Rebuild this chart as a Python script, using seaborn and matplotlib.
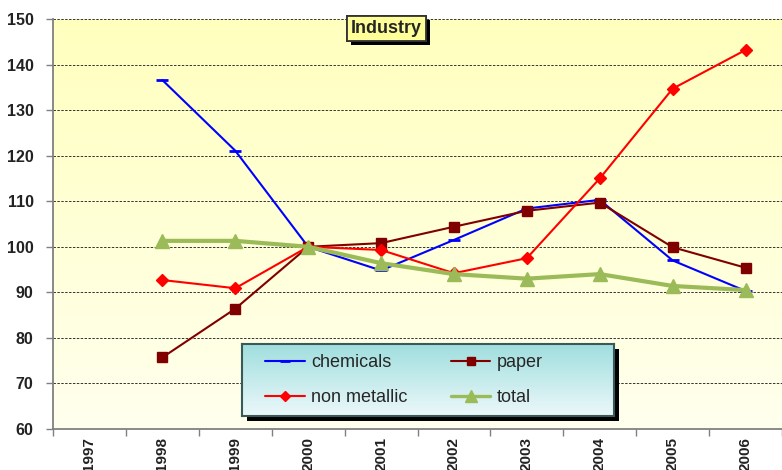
import numpy as np
import pandas as pd
import matplotlib
matplotlib.use('Agg')
import matplotlib.pyplot as plt
import matplotlib.patheffects as pe
from matplotlib.lines import Line2D
from matplotlib.patches import Rectangle
import seaborn as sns

# Data (index, 2000 = 100)
years = ['1997', '1998', '1999', '2000', '2001', '2002', '2003', '2004', '2005', '2006']
data_years = years[1:]
chemicals = [136.6, 121.1, 100.0, 94.8, 101.5, 108.4, 110.3, 97.0, 90.3]
paper = [75.7, 86.4, 100.0, 100.8, 104.4, 107.9, 109.7, 99.9, 95.4]
non_metallic = [92.7, 90.9, 100.0, 99.3, 94.2, 97.5, 115.0, 134.7, 143.2]
total = [101.3, 101.3, 100.0, 96.4, 94.0, 93.0, 94.0, 91.4, 90.5]

sns.set_style('white')
plt.rcParams['font.family'] = ['Liberation Sans', 'DejaVu Sans']

fig = plt.figure(figsize=(7.82, 4.70), dpi=100)
ax = fig.add_axes([53 / 782, 41 / 470, (782 - 53) / 782, 410 / 470])
ax.set_zorder(0)

# yellow gradient background
grad = np.linspace(0, 1, 256).reshape(-1, 1)
top_c = np.array([255, 255, 190]) / 255
bot_c = np.array([255, 255, 238]) / 255
img = top_c[None, None, :] * (1 - grad[:, :, None]) + bot_c[None, None, :] * grad[:, :, None]
ax.imshow(img, extent=[0, 1, 0, 1], transform=ax.transAxes, aspect='auto', zorder=0)

pos = [years.index(y) for y in data_years]
series = [
    ('chemicals', chemicals, '#0000FF', '_', 9, 1.5),
    ('paper', paper, '#800000', 's', 7, 1.5),
    ('non metallic', non_metallic, '#FF0000', 'D', 6, 1.5),
    ('total', total, '#9BBB59', '^', 10, 3.0),
]
for name, vals, col, mk, ms, lw in series:
    sns.lineplot(x=pos, y=vals, ax=ax, color=col, marker=mk, markersize=ms,
                 markeredgecolor=col, markeredgewidth=2 if mk == '_' else 1,
                 linewidth=lw, zorder=3, legend=False)

ax.set_xlim(-0.5, 9.35)
ax.set_ylim(60, 150)
ax.set_yticks(range(60, 151, 10))
ax.set_xticks(np.arange(-0.5, 9.6, 1))
ax.set_xticklabels([])
ax.set_xticks(range(len(years)), minor=True)
ax.set_xticklabels(years, minor=True, rotation=90, fontsize=11, fontweight='bold', color='#222222')
ax.tick_params(axis='x', which='minor', length=0, pad=6)
ax.tick_params(axis='x', which='major', length=5, width=1, color='#808080', direction='out', bottom=True)
ax.tick_params(axis='y', length=5, width=1, color='#808080', direction='out', left=True, pad=9)
for lab in ax.get_yticklabels():
    lab.set_fontsize(11.5)
    lab.set_fontweight('bold')
    lab.set_color('#222222')

ax.yaxis.grid(True, color='#333333', linestyle=(0, (2.5, 1.5)), linewidth=0.7)
ax.set_axisbelow(True)
for s in ['top', 'right']:
    ax.spines[s].set_visible(False)
ax.spines['left'].set_color('#808080')
ax.spines['bottom'].set_color('#808080')
ax.spines['left'].set_linewidth(1.3)
ax.spines['bottom'].set_linewidth(1.3)
ax.set_xlabel('')
ax.set_ylabel('')

# title box
t = fig.text(386.5 / 782, 1 - 28.5 / 470, 'Industry', ha='center', va='center',
             fontsize=13, fontweight='bold', zorder=10,
             bbox=dict(boxstyle='square,pad=0.22', facecolor='#FFFF99', edgecolor='#333333', linewidth=1.3))
t.get_bbox_patch().set_path_effects([pe.withSimplePatchShadow(offset=(3, -3), shadow_rgbFace='black', alpha=1.0), pe.Normal()])

# legend box with teal gradient and shadow
lx0, lx1, ly0, ly1 = 242, 614, 344, 416
lrect = [lx0 / 782, 1 - ly1 / 470, (lx1 - lx0) / 782, (ly1 - ly0) / 470]
shadow = Rectangle((lrect[0] + 5 / 782, lrect[1] - 5 / 470), lrect[2], lrect[3],
                   transform=fig.transFigure, facecolor='black', edgecolor='none', zorder=4)
fig.patches.append(shadow)
lax = fig.add_axes(lrect)
lax.set_zorder(5)
ltop = np.array([160, 222, 222]) / 255
lbot = np.array([236, 248, 250]) / 255
limg = ltop[None, None, :] * (1 - grad[:, :, None]) + lbot[None, None, :] * grad[:, :, None]
lax.imshow(limg, extent=[0, 1, 0, 1], aspect='auto')
lax.set_xlim(0, 1)
lax.set_ylim(0, 1)
lax.set_xticks([])
lax.set_yticks([])
for s in lax.spines.values():
    s.set_color('#3A5A5A')
    s.set_linewidth(1.5)

handles = []
for name, vals, col, mk, ms, lw in series:
    handles.append(Line2D([], [], color=col, marker=mk, markersize=ms * 0.8,
                          markeredgecolor=col, markeredgewidth=2 if mk == '_' else 1,
                          linewidth=lw * 0.8 if name == 'total' else lw))
labels = [s[0] for s in series]
order = [0, 2, 1, 3]
lax.legend([handles[i] for i in order], [labels[i] for i in order], ncol=2, loc='center left',
           bbox_to_anchor=(23 / 372, 0.5), frameon=False, fontsize=13, handlelength=2.2,
           handletextpad=0.35, columnspacing=2.4, labelspacing=1.0, borderaxespad=0, borderpad=0)

fig.savefig('out.png', dpi=100)
